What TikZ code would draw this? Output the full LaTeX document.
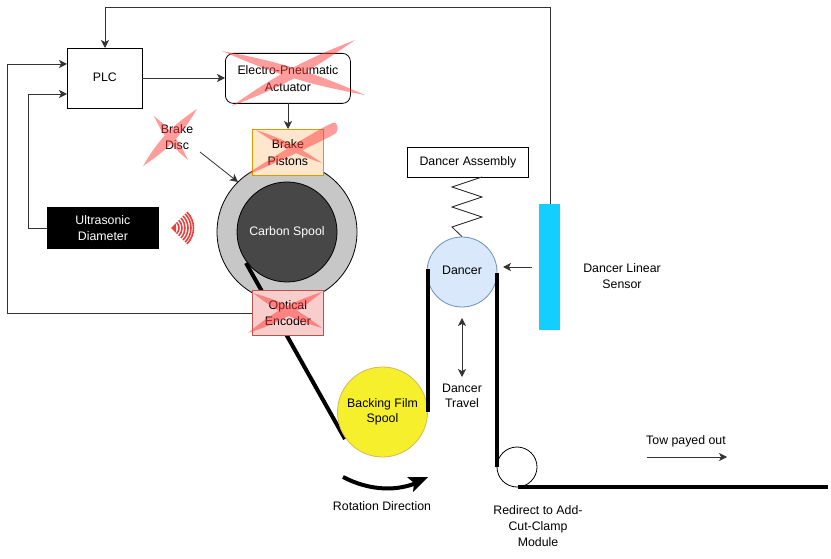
\documentclass[tikz,border=0pt]{standalone}
\usepackage{fontspec}
\setmainfont{Liberation Sans}
\usetikzlibrary{arrows.meta,calc}
\definecolor{xred}{HTML}{FF3B3B}
\definecolor{wavered}{HTML}{E8403C}
\definecolor{spoolyel}{HTML}{F6F02C}
\definecolor{spoolyeledge}{HTML}{D6B656}
\definecolor{dancerfill}{HTML}{DAE8FC}
\definecolor{danceredge}{HTML}{6C8EBF}
\definecolor{sensfill}{HTML}{12CFFF}
\definecolor{pistfill}{HTML}{FFE6CC}
\definecolor{pistedge}{HTML}{D79B00}
\definecolor{encfill}{HTML}{F8CECC}
\definecolor{encedge}{HTML}{B85450}
\renewcommand{\arraystretch}{1.06}
\newcommand{\upt}[2][-0.9pt]{\raisebox{#1}[\height][\depth]{\begin{tabular}{@{}c@{}}#2\end{tabular}}}
\tikzset{
  x=0.75pt,y=-0.75pt,
  every node/.style={font=\fontsize{9.25}{11.7}\selectfont,align=center,inner sep=0pt},
  box/.style={draw=black,line width=0.6pt,anchor=north west},
  lbl/.style={text=black},
  conn/.style={draw=black!80,line width=0.6pt,-{Stealth[length=6pt,width=6pt,inset=1.6pt]}},
  wire/.style={draw=black!85,line width=0.6pt},
  tape/.style={draw=black,line width=3pt},
  xmark/.style={fill=xred,fill opacity=0.5,draw=none},
}
\begin{document}
\begin{tikzpicture}
\useasboundingbox (0,0) rectangle (831,559);
\node[circle,draw=black,line width=0.6pt,fill=black!22,minimum size=105pt] (disc) at (287,232) {};
\node[circle,draw=black,line width=0.6pt,fill=black!72,minimum size=75pt,text=white] (carbon) at (287,232) {Carbon Spool};
\coordinate (tapeA) at (246,263);
\coordinate (tapeB) at (345,439);
\draw[tape] (tapeA) -- (tapeB);
% boxes
\node[box,fill=white,minimum width=56.25pt,minimum height=45pt] (plc) at (67,48) {\upt[0.25pt]{PLC}};
\node[box,rounded corners=6pt,fill=white,minimum width=93.75pt,minimum height=37.5pt] (act) at (225,53) {\upt{Electro-Pneumatic\\Actuator}};
\node[box,draw=pistedge,fill=pistfill,minimum width=53.25pt,minimum height=34.5pt] (pist) at (252,129) {\upt{Brake\\Pistons}};
\node[box,draw=encedge,fill=encfill,minimum width=53.25pt,minimum height=33.75pt] (enc) at (252,290) {\upt{Optical\\Encoder}};
\node[box,fill=black,text=white,minimum width=83.25pt,minimum height=30.75pt,text width=80pt] (ultra) at (47,207) {Ultrasonic\\Diameter};
\node[lbl] (bdisc) at (177,137) {\upt{Brake\\Disc}};
% backing spool
\node[circle,draw=spoolyeledge,line width=0.6pt,fill=spoolyel,minimum size=67.5pt] (back) at (382.5,412) {Backing Film\\Spool};
% dancer
\node[circle,draw=danceredge,line width=0.6pt,fill=dancerfill,minimum size=52.5pt] (dancer) at (462,272) {\upt[0.25pt]{Dancer}};
\node[box,minimum width=90.75pt,minimum height=22.5pt] (assy) at (407,147) {Dancer Assembly};
\node[circle,draw=black,line width=0.6pt,fill=white,minimum size=30pt] (redir) at (517,467) {};
\node[anchor=north west,fill=sensfill,minimum width=15.75pt,minimum height=94.5pt] (sens) at (539,204) {};
% spring
\draw[wire] (482,177) -- (452,187) -- (482,197) -- (452,207) -- (482,217) -- (452,227) -- (dancer.north);
% tape segments
\coordinate (l1a) at (427.5,269); \coordinate (l1b) at (427.5,412);
\coordinate (l2a) at (497,273); \coordinate (l2b) at (497,467);
\coordinate (l3a) at (518,487); \coordinate (l3b) at (828,487);
\draw[tape] (l1a) -- (l1b);
\draw[tape] (l2a) -- (l2b);
\draw[tape] (l3a) -- (l3b);
% connectors
\coordinate (sensT) at (550,204);
\coordinate (topR) at (550,7);
\coordinate (plcT) at (105,48);
\draw[conn] (sensT) -- (topR) -| (plcT);
\coordinate (plcR) at (142,78); \coordinate (actL) at (225,78);
\draw[conn] (plcR) -- (actL);
\coordinate (actB) at (288,103); \coordinate (pistT) at (288,129);
\draw[conn] (actB) -- (pistT);
\coordinate (bda) at (200,152); \coordinate (bdb) at (238,182);
\draw[conn] (bda) -- (bdb);
\coordinate (encL) at (252,313); \coordinate (plcL1) at (67,64);
\draw[conn] (encL) -- (7,313) -- (7,64) -- (plcL1);
\coordinate (ulL) at (47,228); \coordinate (plcL2) at (67,94);
\draw[conn] (ulL) -- (28,228) -- (28,94) -- (plcL2);
\coordinate (sa) at (532,267); \coordinate (sb) at (503,267);
\draw[conn] (sa) -- (sb);
\coordinate (ta) at (462,318); \coordinate (tb) at (462,377);
\draw[conn,{Stealth[length=6pt,width=6pt,inset=1.6pt]}-{Stealth[length=6pt,width=6pt,inset=1.6pt]}] (ta) -- (tb);
\coordinate (pa) at (647,457); \coordinate (pb) at (727,457);
\draw[conn] (pa) -- (pb);
% rotation arrow
\coordinate (ra) at (343,477); \coordinate (rb) at (421,481);
\draw[line width=3pt,black] (ra) .. controls (370,491) and (398,492) .. (rb);
\fill[black] (428,477) -- (407,477) -- (414,483) -- (413,492) -- cycle;
% labels
\node[lbl] (ldtr) at (462,396) {Dancer\\Travel};
\node[lbl] (lsens) at (622,276) {Dancer Linear\\Sensor};
\node[lbl] (lrot) at (382,506) {Rotation Direction};
\node[lbl] (lred) at (538,526) {Redirect to Add-\\Cut-Clamp\\Module};
\node[lbl] (ltow) at (686,441) {Tow payed out};
% ultrasonic waves
\fill[wavered] (171,228) -- (176,223) -- (176,233) -- cycle;
\foreach \r in {8,11,14,17,20,22.5}{
  \draw[wavered,line width=1.2pt] (171,228) ++(-45:\r) arc[start angle=45,end angle=-45,radius=\r*0.75pt];
}
% red crosses
\fill[xmark] (222,51) to[bend left=6.5] (365,95) to[bend left=6.5] (222,51)
              (355,40) to[bend left=7] (232,106) to[bend left=7] (355,40);
\fill[xmark] (154,116) to[bend left=13] (188,160) to[bend left=13] (154,116)
              (197,109) to[bend left=13] (143,166) to[bend left=13] (197,109);
\fill[xmark] (256,130) to[bend left=8] (322,163) to[bend left=8] (256,130)
              plot[smooth cycle] coordinates {(248,174) (290,147) (330,124) (337,125) (337,131) (331,136) (290,156)};
\fill[xmark] (253,293) to[bend left=11] (322,328) to[bend left=11] (253,293)
              (322,292) to[bend left=11] (248,333) to[bend left=11] (322,292);
\end{tikzpicture}
\end{document}
